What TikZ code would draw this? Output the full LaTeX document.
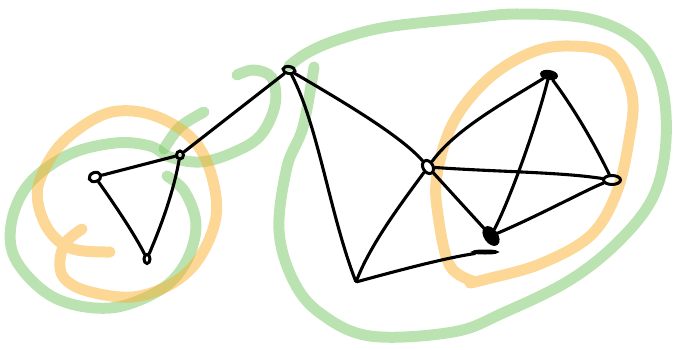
\documentclass[tikz,border=0pt]{standalone}
\usetikzlibrary{shapes.geometric}
\definecolor{hlgreen}{RGB}{120,200,100}
\definecolor{hlorange}{RGB}{250,175,45}
\tikzset{
  blob/.style={line width=11pt, line cap=round, line join=round, opacity=0.5},
  greenblob/.style={blob, draw=hlgreen},
  orangeblob/.style={blob, draw=hlorange},
  glyph/.style={draw, ellipse, line width=3pt, inner sep=0pt, minimum width=12pt, minimum height=9pt},
  darkglyph/.style={glyph, fill=black},
  edge/.style={draw, line width=3.1pt, line cap=round, line join=round}
}
\begin{document}
\begin{tikzpicture}[x=1pt,y=-1pt]
\useasboundingbox (0,0) rectangle (674,349);
% highlight strokes
\draw[greenblob] plot[smooth, tension=0.6] coordinates {(167,176) (185,192) (196,225) (186,262) (160,290) (110,308) (55,298) (17,262) (11,225) (28,185) (68,155) (115,143) (150,146) (170,157) (200,162) (232,153) (260,136) (275,105) (272,78) (254,70) (237,75)};
\draw[greenblob] plot[smooth, tension=0.6] coordinates {(204,112) (180,127) (164,149)};
\draw[greenblob] plot[smooth, tension=0.6] coordinates {(314,67) (303,127) (287,167) (279,230) (293,280) (320,313) (370,336) (453,332) (503,313) (570,280) (620,240) (654,195) (666,140) (661,82) (638,42) (590,19) (520,14) (470,18) (387,27) (337,40) (307,53) (289,66)};
\draw[orangeblob] plot[smooth, tension=0.6] coordinates {(82,229) (66,242) (60,260) (64,278) (87,291) (133,297) (173,283) (200,257) (216,217) (212,177) (196,143) (167,121) (133,111) (100,116) (62,143) (41,177) (38,203) (50,232) (73,249) (110,252)};
\draw[orangeblob] plot[smooth, tension=0.6] coordinates {(476,282) (450,266) (438,215) (437,175) (453,123) (487,80) (530,53) (570,46) (612,55) (632,95) (629,140) (616,194) (590,236) (540,264) (487,279) (470,283)};
% nodes
\node[glyph, rotate=20] (A) at (95,177) {};
\node[glyph, minimum width=7pt, minimum height=8pt] (B) at (180,155) {};
\node[glyph, minimum width=6pt, minimum height=9pt] (C) at (147,259) {};
\node[glyph, rotate=-10, minimum width=12pt, minimum height=7pt] (D) at (289,70) {};
\node[glyph, rotate=30, minimum width=10pt, minimum height=14pt] (E) at (428,167) {};
\node[darkglyph, rotate=-10, minimum width=15pt, minimum height=7pt] (G) at (549,75) {};
\node[glyph, minimum width=17pt, minimum height=9pt] (H) at (612,180) {};
\node[darkglyph, rotate=35, minimum width=11pt, minimum height=19pt] (I) at (491,236) {};
\node[darkglyph, minimum width=22pt, minimum height=2pt] (Ibar) at (485,252) {};
\node[inner sep=0pt, minimum size=1pt] (F) at (356,282) {};
% edges
\draw[edge] (A) -- (B);
\draw[edge] (B) -- (D);
\draw[edge] (A) .. controls (115,205) and (135,235) .. (C);
\draw[edge] (B) .. controls (172,200) and (155,240) .. (C);
\draw[edge] (D) .. controls (340,100) and (400,135) .. (E);
\draw[edge] (D) .. controls (318,125) and (330,215) .. (F);
\draw[edge] (E) .. controls (400,205) and (370,245) .. (F);
\draw[edge] (F) .. controls (400,270) and (445,258) .. (Ibar);
\draw[edge] (E) -- (I);
\draw[edge] (E) .. controls (455,130) and (500,105) .. (G);
\draw[edge] (E) .. controls (500,172) and (560,172) .. (H);
\draw[edge] (G) .. controls (575,110) and (595,145) .. (H);
\draw[edge] (G) .. controls (538,120) and (512,195) .. (I);
\draw[edge] (I) .. controls (540,215) and (590,188) .. (H);
\end{tikzpicture}
\end{document}
